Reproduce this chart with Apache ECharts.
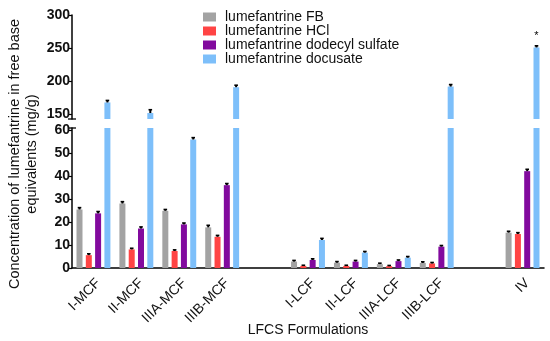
<!DOCTYPE html>
<html><head><meta charset="utf-8">
<script src="https://cdn.jsdelivr.net/npm/echarts@6/dist/echarts.min.js"></script>
<style>html,body{margin:0;padding:0;background:#fff}#c{width:550px;height:341px}</style>
</head><body><div id="c"></div>
<script>
const categories = ['I-MCF','II-MCF','IIIA-MCF','IIIB-MCF','','I-LCF','II-LCF','IIIA-LCF','IIIB-LCF','','IV'];
const seriesNames = ['lumefantrine FB','lumefantrine HCl','lumefantrine dodecyl sulfate','lumefantrine docusate'];
const fbValues  = [25.5, 28.1, 24.9, 17.7, null, 2.8, 2.3, 1.7, 2.2, null, 15.4];
const hclValues = [5.6, 8.1, 7.4, 13.6, null, 0.9, 0.9, 0.8, 2.0, null, 14.8];
const ddsValues = [23.8, 17.2, 19.0, 36.1, null, 3.5, 2.8, 3.0, 9.3, null, 42.2];
const docValues = [168, 152, 56, 191, null, 12.2, 6.7, 4.5, 192, null, 251];
const fbErr  = [0.8, 0.8, 0.6, 0.9, null, 0.5, 0.5, 0.4, 0.5, null, 0.6];
const hclErr = [0.6, 0.5, 0.5, 0.6, null, 0.3, 0.3, 0.3, 0.4, null, 0.6];
const ddsErr = [0.8, 0.7, 0.6, 0.7, null, 0.5, 0.5, 0.5, 0.5, null, 0.8];
const docErr = [3, 5, 0.8, 3, null, 0.7, 0.5, 0.5, 3, null, 2.5];
const upperTicks = [150, 200, 250, 300];
const lowerTicks = [0, 10, 20, 30, 40, 50, 60];
const colors = ['#A3A3A3', '#FF4444', '#820A9E', '#7DBFFA'];

const allValues = [fbValues, hclValues, ddsValues, docValues];
const allErr = [fbErr, hclErr, ddsErr, docErr];
const FONT = 'Liberation Sans';
const BAR_W = 6, PITCH = 9.3;

const chart = echarts.init(document.getElementById('c'), null, {renderer: 'canvas'});

const errData = [];
allValues.forEach((vals, s) => vals.forEach((v, i) => { if (v != null) errData.push([i, v, allErr[s][i], s]); }));

function errRender(params, api) {
  const cs = params.coordSys;
  const i = api.value(0), v = api.value(1), e = api.value(2), s = api.value(3);
  const p0 = api.coord([i, v]);
  const p1 = api.coord([i, v + e]);
  if (p0[1] < cs.y - 0.5 || p0[1] > cs.y + cs.height + 0.5) return null;
  const x = p0[0] + (s - 1.5) * PITCH;
  return {
    type: 'group',
    children: [
      {type: 'line', shape: {x1: x, y1: p0[1], x2: x, y2: p1[1]}, style: {stroke: '#000', lineWidth: 2}},
      {type: 'line', shape: {x1: x - 1.8, y1: p1[1], x2: x + 1.8, y2: p1[1]}, style: {stroke: '#000', lineWidth: 1.6}}
    ]
  };
}

const series = [];
[0, 1].forEach(g => {
  allValues.forEach((vals, s) => {
    const ser = {
      name: seriesNames[s], type: 'bar', xAxisIndex: g, yAxisIndex: g,
      data: vals, barWidth: BAR_W, barGap: '55%', clip: true,
      itemStyle: {color: colors[s]}, silent: true
    };
    if (g === 0 && s === 3) {
      ser.markPoint = {
        symbol: 'circle', symbolSize: 0,
        data: [{coord: [10, 268], value: '*'}],
        label: {show: true, formatter: '*', color: '#000', fontSize: 11, fontFamily: FONT}
      };
    }
    series.push(ser);
  });
  series.push({type: 'custom', xAxisIndex: g, yAxisIndex: g, data: errData, renderItem: errRender, clip: true, silent: true, z: 5});
});

const axisColor = '#000';
const option = {
  animation: false,
  legend: {
    data: seriesNames, orient: 'vertical', left: 198, top: 5,
    itemWidth: 13, itemHeight: 9, itemGap: 0, icon: 'rect',
    textStyle: {fontFamily: FONT, fontSize: 14, color: '#111', lineHeight: 14, padding: [0, 0, 0, 4]}
  },
  grid: [
    {left: 72, right: 6, top: 15, height: 104, containLabel: false},
    {left: 72, right: 6, top: 128, height: 140, containLabel: false}
  ],
  xAxis: [
    {type: 'category', gridIndex: 0, data: categories, show: false},
    {type: 'category', gridIndex: 1, data: categories,
      axisLine: {lineStyle: {color: axisColor, width: 1.5}},
      axisTick: {alignWithLabel: true, interval: 0, length: 4, lineStyle: {color: axisColor, width: 1.2}},
      axisLabel: {interval: 0, rotate: 45, margin: 8, align: 'right', verticalAlign: 'top',
        fontFamily: FONT, fontSize: 14, color: '#111'}
    }
  ],
  yAxis: [
    {type: 'value', gridIndex: 0, min: 143, max: 300, splitLine: {show: false},
      axisLine: {show: true, lineStyle: {color: axisColor, width: 1.5}},
      axisTick: {show: true, length: 4, customValues: upperTicks, lineStyle: {color: axisColor, width: 1.2}},
      axisLabel: {customValues: upperTicks, margin: 2, fontFamily: FONT, fontSize: 14, fontWeight: 'bold', color: '#111'}
    },
    {type: 'value', gridIndex: 1, min: 0, max: 61, splitLine: {show: false},
      axisLine: {show: true, lineStyle: {color: axisColor, width: 1.5}},
      axisTick: {show: true, length: 4, customValues: lowerTicks, lineStyle: {color: axisColor, width: 1.2}},
      axisLabel: {customValues: lowerTicks, margin: 2, fontFamily: FONT, fontSize: 14, fontWeight: 'bold', color: '#111'}
    }
  ],
  graphic: [
    {type: 'text', x: 23, y: 154, rotation: Math.PI / 2,
      style: {text: 'Concentration of lumefantrine in free base\nequivalents (mg/g)', fontFamily: FONT, fontSize: 14.5,
        fill: '#111', align: 'center', verticalAlign: 'middle', lineHeight: 17}},
    {type: 'text', x: 308, y: 330,
      style: {text: 'LFCS Formulations', fontFamily: FONT, fontSize: 14, fill: '#111', align: 'center', verticalAlign: 'middle'}},
    {type: 'line', shape: {x1: 68, y1: 119, x2: 76, y2: 119}, style: {stroke: '#000', lineWidth: 1.3}},
    {type: 'line', shape: {x1: 68, y1: 128, x2: 76, y2: 128}, style: {stroke: '#000', lineWidth: 1.3}}
  ],
  series: series
};
chart.setOption(option);
</script></body></html>
